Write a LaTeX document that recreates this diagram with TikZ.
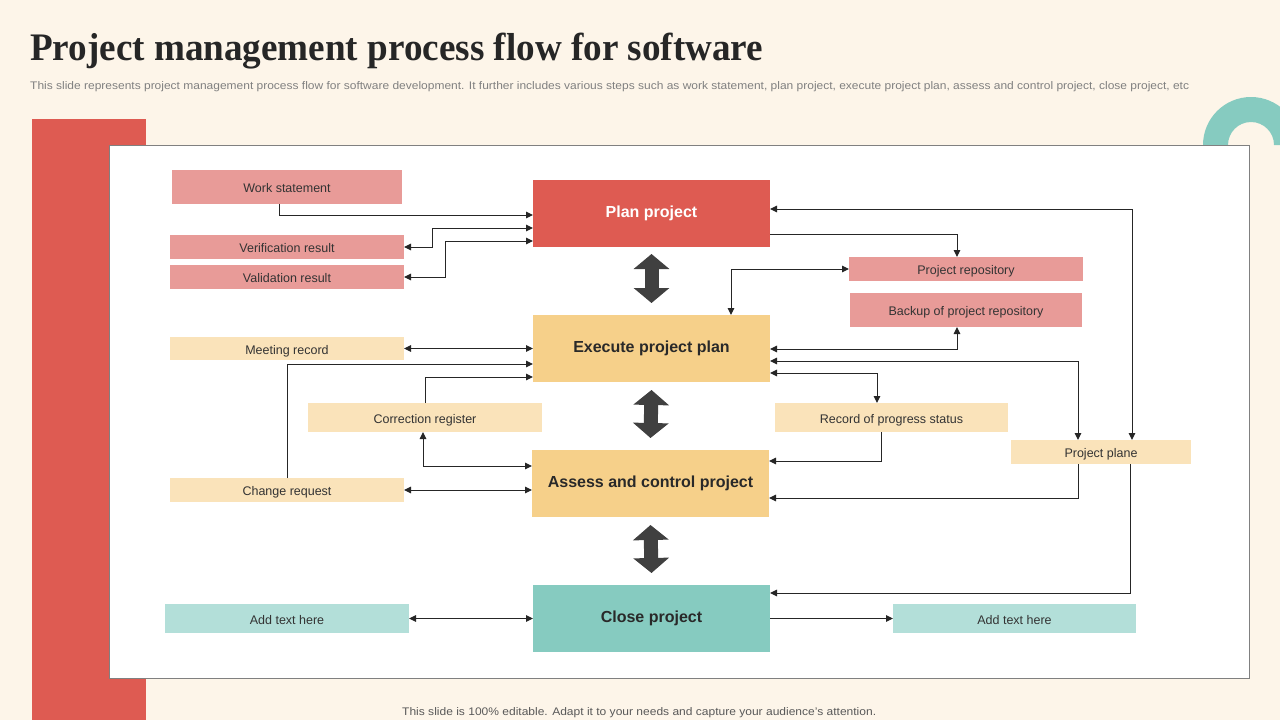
\documentclass[tikz,border=0pt]{standalone}
\usepackage{fontspec}
\usepackage{graphicx}
\setmainfont{Liberation Sans}
\newfontfamily\titlefont{Liberation Serif}
\usetikzlibrary{arrows.meta,calc}
\definecolor{bgc}{HTML}{FDF5E9}
\definecolor{redc}{HTML}{DE5B52}
\definecolor{pinkc}{HTML}{E89B98}
\definecolor{yelc}{HTML}{F6D08A}
\definecolor{lyelc}{HTML}{FAE3BA}
\definecolor{tealc}{HTML}{86CBC0}
\definecolor{lteal}{HTML}{B3DFD9}
\definecolor{txtc}{HTML}{333333}
\definecolor{linec}{HTML}{262626}
\definecolor{fatc}{HTML}{404040}
\newlength\fitlen
\newcommand\fitx[2]{\settowidth\fitlen{#2}\pgfmathsetmacro\fitf{#1/\fitlen}\scalebox{\fitf}[1]{#2}}
\tikzset{
  bx/.style={rectangle,inner sep=0pt,outer sep=0pt,text=txtc,text height=11pt,text depth=0pt,font=\fontsize{12.5}{14}\selectfont},
  mainbx/.style={rectangle,inner sep=0pt,outer sep=0pt,minimum width=237pt,minimum height=67pt,font=\bfseries\fontsize{16}{19}\selectfont},
  conn/.style={draw=linec,line width=1pt,arrows={-}},
  tip/.tip={Triangle[length=7pt,width=6.5pt]},
  fat/.style={draw=fatc,line width=14pt,{Triangle[length=15pt 0 0,width=35pt 0 0]}-{Triangle[length=15pt 0 0,width=35pt 0 0]}}
}
\begin{document}
\begin{tikzpicture}[x=1pt,y=-1pt]
\useasboundingbox (0,0) rectangle (1280,720);
\fill[bgc] (0,0) rectangle (1280,720);
% title and texts
\node[anchor=base west,inner sep=0pt,text=black!85] (title) at (30,60)
  {\titlefont\bfseries\fontsize{39}{44}\selectfont\fitx{733pt}{Project management process flow for software}};
\node[anchor=base west,inner sep=0pt,text=black!50] (sub) at (30,89)
  {\fontsize{11}{13}\selectfont\fitx{1159pt}{This slide represents project management process flow for software development. It further includes various steps such as work statement, plan project, execute project plan, assess and control project, close project, etc}};
% decorations
\fill[redc] (32,119) rectangle (146,720);
\fill[tealc] (1203,145) arc[start angle=180,end angle=360,radius=48] -- (1274,145) arc[start angle=0,end angle=-180,radius=23] -- cycle;
\filldraw[fill=white,draw=black!50,line width=0.8pt] (109,145) rectangle (1249,678);
\node[anchor=base west,inner sep=0pt,text=black!65] (foot) at (402,715)
  {\fontsize{11}{13}\selectfont\fitx{474pt}{This slide is 100\% editable. Adapt it to your needs and capture your audience's attention.}};
% main boxes
\node[mainbx,fill=redc,text=white] (plan) at (651.5,213.5) {Plan project};
\node[mainbx,fill=yelc,text=txtc!80!black] (exec) at (651.5,348.5) {Execute project plan};
\node[mainbx,fill=yelc,text=txtc!80!black] (assess) at (650.5,483.5) {Assess and control project};
\node[mainbx,fill=tealc,text=txtc!80!black] (close) at (651.5,618.5) {Close project};
% side boxes
\node[bx,fill=pinkc,minimum width=230pt,minimum height=34pt] (ws) at (287,187) {Work statement};
\node[bx,fill=pinkc,minimum width=234pt,minimum height=24pt] (ver) at (287,247) {Verification result};
\node[bx,fill=pinkc,minimum width=234pt,minimum height=24pt] (val) at (287,277) {Validation result};
\node[bx,fill=lyelc,minimum width=234pt,minimum height=23pt] (meet) at (287,348.5) {Meeting record};
\node[bx,fill=lyelc,minimum width=234pt,minimum height=29pt] (corr) at (425,417.5) {Correction register};
\node[bx,fill=lyelc,minimum width=234pt,minimum height=24pt] (chg) at (287,490) {Change request};
\node[bx,fill=lteal,minimum width=244pt,minimum height=29pt] (addL) at (287,618.5) {Add text here};
\node[bx,fill=pinkc,minimum width=234pt,minimum height=24pt] (repo) at (966,269) {Project repository};
\node[bx,fill=pinkc,minimum width=232pt,minimum height=34pt] (backup) at (966,310) {Backup of project repository};
\node[bx,fill=lyelc,minimum width=233pt,minimum height=29pt] (prog) at (891.5,417.5) {Record of progress status};
\node[bx,fill=lyelc,minimum width=180pt,minimum height=24pt] (pplane) at (1101,452) {Project plane};
\node[bx,fill=lteal,minimum width=243pt,minimum height=29pt] (addR) at (1014.5,618.5) {Add text here};
% fat arrows
\draw[fat] ([yshift=-7pt]plan.south) -- ([yshift=12pt]exec.north);
\draw[fat] ([yshift=-8pt]exec.south) -- ([yshift=12pt]assess.north);
\draw[fat] ([yshift=-8pt]assess.south) -- ([yshift=12pt]close.north);
% connectors
\draw[conn,-tip] (ws.south -| 279,0) |- (plan.west |- 0,215);
\draw[conn,tip-tip] (plan.west |- 0,228) -- (432,228) -- (432,247) -- (ver.east);
\draw[conn,tip-tip] (plan.west |- 0,241) -- (445,241) -- (445,277) -- (val.east);
\draw[conn,-tip] (plan.east |- 0,234) -| (repo.north -| 957,0);
\draw[conn,tip-tip] (plan.east |- 0,209) -| (pplane.north -| 1132,0);
\draw[conn,tip-tip] (repo.west) -| (exec.north -| 731,0);
\draw[conn,tip-tip] (exec.east |- 0,349) -| (backup.south -| 957,0);
\draw[conn,tip-tip] (exec.east |- 0,361) -| (pplane.north -| 1078,0);
\draw[conn,tip-tip] (exec.east |- 0,373) -| (prog.north -| 877,0);
\draw[conn,-tip] (prog.south -| 881,0) |- (assess.east |- 0,461);
\draw[conn,-tip] (pplane.south -| 1078,0) |- (assess.east |- 0,498);
\draw[conn,-tip] (pplane.south -| 1130,0) |- (close.east |- 0,593);
\draw[conn,-tip] (close.east) -- (addR.west);
\draw[conn,tip-tip] (addL.east) -- (close.west);
\draw[conn,tip-tip] (meet.east) -- (exec.west);
\draw[conn,-tip] (chg.north -| 287,0) |- (exec.west |- 0,364);
\draw[conn,-tip] (corr.north) |- (exec.west |- 0,377);
\draw[conn,tip-tip] (assess.west |- 0,466) -| (corr.south -| 423,0);
\draw[conn,tip-tip] (chg.east) -- (assess.west |- chg.east);
\end{tikzpicture}
\end{document}
